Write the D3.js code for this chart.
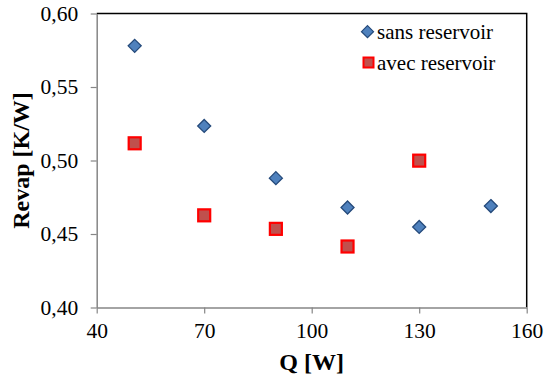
<!DOCTYPE html>
<html><head><meta charset="utf-8">
<script src="https://cdn.jsdelivr.net/npm/d3@7"></script>
<style>body{margin:0;background:#fff}svg{display:block}
svg text{font-family:"Liberation Serif","Times New Roman","DejaVu Serif",serif !important;}</style>
</head><body>
<script>
const sansQ = [50.6, 70, 90, 110, 130, 150];
const sansR = [0.578, 0.5235, 0.488, 0.468, 0.4548, 0.469];
const avecQ = [50.6, 70, 90, 110, 130];
const avecR = [0.5117, 0.4627, 0.4535, 0.4415, 0.4999];
const xTicks = [40, 70, 100, 130, 160];
const yTicks = [0.40, 0.45, 0.50, 0.55, 0.60];
const seriesNames = ["sans reservoir", "avec reservoir"];

const W = 545, H = 376;
const m = {l: 96.7, r: 545 - 526.7, t: 13.5, b: 376 - 307.5};
const svg = d3.select("body").append("svg").attr("width", W).attr("height", H);
const x = d3.scaleLinear().domain([40, 160]).range([m.l, W - m.r]);
const y = d3.scaleLinear().domain([0.40, 0.60]).range([H - m.b, m.t]);
const fmt = d => d3.format(".2f")(d).replace(".", ",");

// frame top/right
svg.append("path")
  .attr("d", `M${x(40)},${y(0.6)}H${x(160)}V${y(0.4)}`)
  .attr("fill", "none").attr("stroke", "#000").attr("stroke-width", 1.5);

const gx = svg.append("g").attr("transform", `translate(0,${y(0.4)})`)
  .call(d3.axisBottom(x).tickValues(xTicks).tickSize(6).tickSizeOuter(0).tickPadding(9));
const gy = svg.append("g").attr("transform", `translate(${x(40)},0)`)
  .call(d3.axisLeft(y).tickValues(yTicks).tickFormat(fmt).tickSize(6).tickSizeOuter(0).tickPadding(12.5));
[gx, gy].forEach(g => {
  g.attr("font-family", null).attr("font-size", null);
  g.select(".domain").attr("stroke", "#868686").attr("stroke-width", 1.5);
  g.selectAll(".tick line").attr("stroke", "#868686").attr("stroke-width", 1.2);
  g.selectAll(".tick text").attr("fill", "#000").style("font-size", "21.5px");
});

// axis titles
svg.append("text").attr("x", (x(40) + x(160)) / 2).attr("y", 370)
  .attr("text-anchor", "middle").style("font-size", "24px")
  .style("font-weight", "bold").text("Q [W]");
svg.append("text").attr("transform", `translate(29,${(y(0.4) + y(0.6)) / 2}) rotate(-90)`)
  .attr("text-anchor", "middle").style("font-size", "24px")
  .style("font-weight", "bold").text("Revap [K/W]");

const diamond = s => `M0,${-s}L${s},0L0,${s}L${-s},0Z`;

// sans reservoir
svg.append("g").selectAll("path").data(sansQ.map((q, i) => [q, sansR[i]])).join("path")
  .attr("transform", d => `translate(${x(d[0])},${y(d[1])})`)
  .attr("d", diamond(6.5)).attr("fill", "#4F81BD").attr("stroke", "#24497A").attr("stroke-width", 1.3);

// avec reservoir
svg.append("g").selectAll("rect").data(avecQ.map((q, i) => [q, avecR[i]])).join("rect")
  .attr("x", d => x(d[0]) - 6).attr("y", d => y(d[1]) - 6)
  .attr("width", 12).attr("height", 12)
  .attr("fill", "#C0504D").attr("stroke", "#FF0000").attr("stroke-width", 2.2);

// legend
const lg = svg.append("g");
lg.append("path").attr("transform", "translate(367.5,31.7)").attr("d", diamond(6))
  .attr("fill", "#4F81BD").attr("stroke", "#24497A").attr("stroke-width", 1.2);
lg.append("rect").attr("x", 363.5).attr("y", 57.5).attr("width", 10).attr("height", 10)
  .attr("fill", "#C0504D").attr("stroke", "#FF0000").attr("stroke-width", 2);
lg.append("text").attr("x", 377).attr("y", 38.5).style("font-size", "21px").text(seriesNames[0]);
lg.append("text").attr("x", 377).attr("y", 69.5).style("font-size", "21px").text(seriesNames[1]);
</script>
</body></html>
